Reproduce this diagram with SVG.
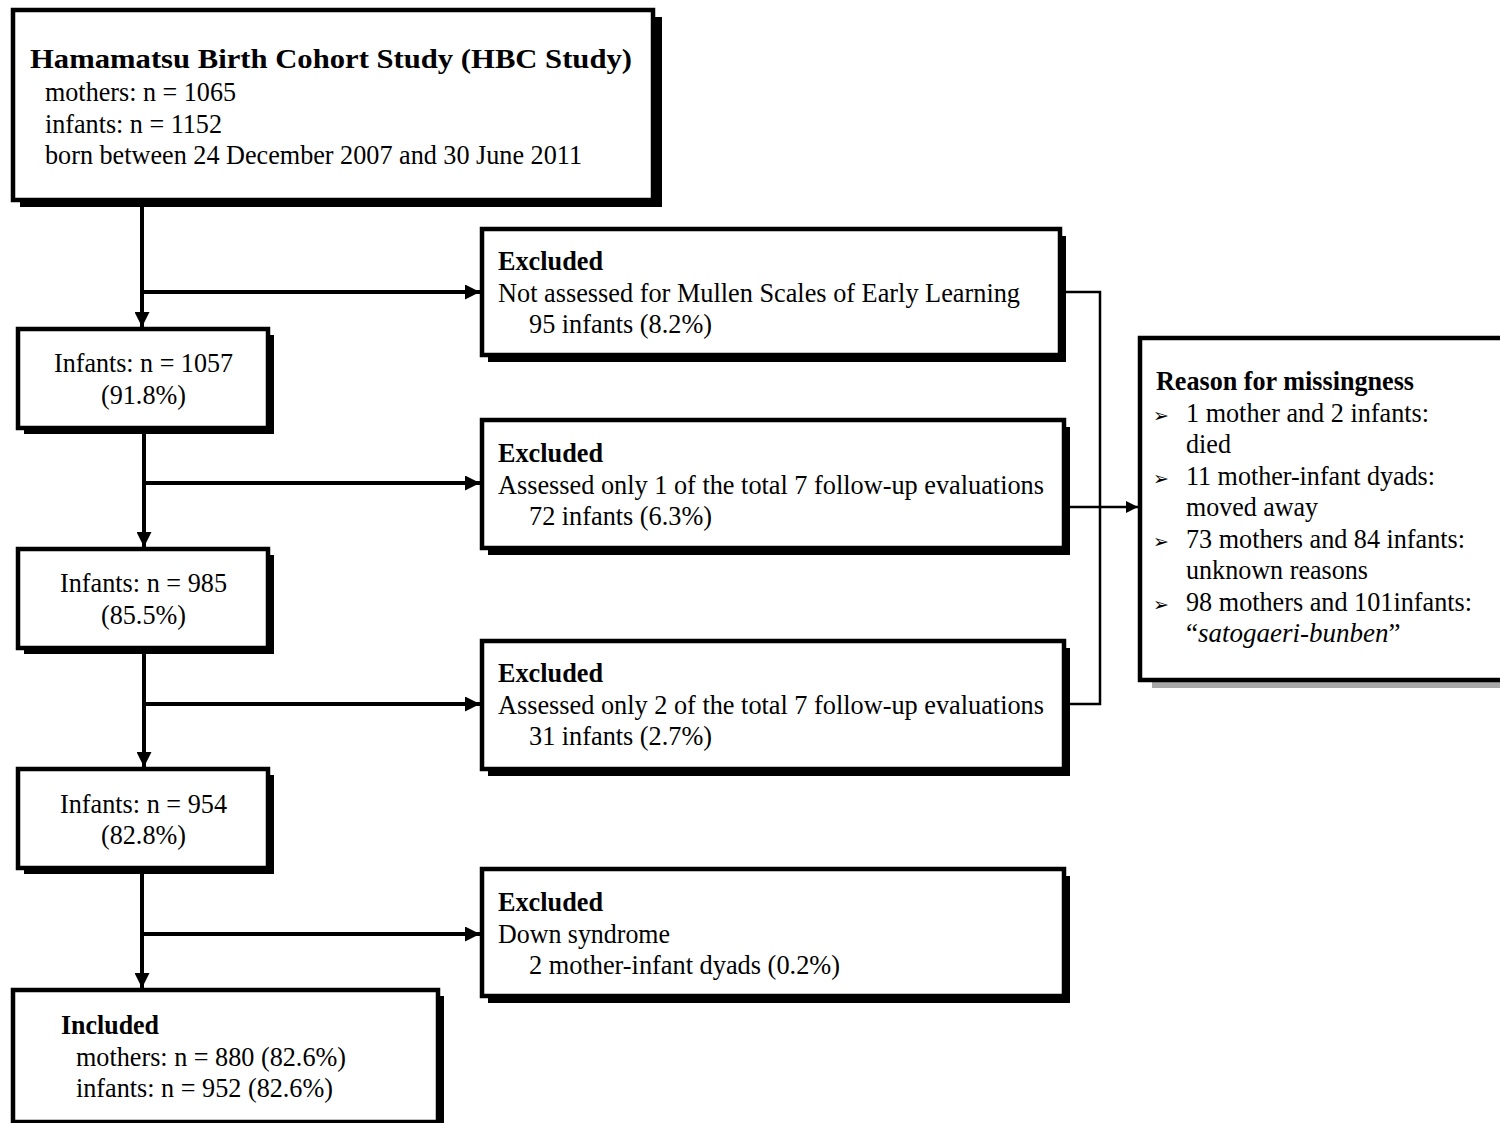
<svg xmlns="http://www.w3.org/2000/svg" width="1500" height="1123" viewBox="0 0 1500 1123">
<defs>
<style>
.box{fill:#fff;stroke:#000;stroke-width:4.5}
.sh{fill:#000}
.shg{fill:#a8a8a8}
.t{font-family:"Liberation Serif","Times New Roman",serif;font-size:27px;fill:#000}
.b{font-weight:bold}
.i{font-style:italic}
.c{text-anchor:middle}
.ln{fill:none;stroke:#000;stroke-width:4}
.thin{fill:none;stroke:#000;stroke-width:2.5}
.bul{font-family:"DejaVu Sans",sans-serif;font-size:19px;fill:#000}
</style>
<marker id="ah" viewBox="0 0 10 10" refX="10" refY="5" markerWidth="16" markerHeight="15" markerUnits="userSpaceOnUse" orient="auto">
<path d="M0,0 L10,5 L0,10 Z" fill="#000"/>
</marker>
<marker id="ah2" viewBox="0 0 10 10" refX="10" refY="5" markerWidth="13" markerHeight="12" markerUnits="userSpaceOnUse" orient="auto">
<path d="M0,0 L10,5 L0,10 Z" fill="#000"/>
</marker>
</defs>
<rect width="1500" height="1123" fill="#fff"/>

<g id="connectors">
<line class="ln" x1="142" y1="200" x2="142" y2="327" marker-end="url(#ah)"/>
<line class="ln" x1="142" y1="292" x2="480" y2="292" marker-end="url(#ah)"/>
<line class="ln" x1="144" y1="428" x2="144" y2="547" marker-end="url(#ah)"/>
<line class="ln" x1="144" y1="483" x2="480" y2="483" marker-end="url(#ah)"/>
<line class="ln" x1="144" y1="648" x2="144" y2="767" marker-end="url(#ah)"/>
<line class="ln" x1="144" y1="704" x2="480" y2="704" marker-end="url(#ah)"/>
<line class="ln" x1="142" y1="868" x2="142" y2="988" marker-end="url(#ah)"/>
<line class="ln" x1="142" y1="934" x2="480" y2="934" marker-end="url(#ah)"/>
<polyline class="thin" points="1062,292 1100,292 1100,704 1066,704"/>
<line class="thin" x1="1066" y1="507" x2="1138" y2="507" marker-end="url(#ah2)"/>
</g>

<g id="n-cohort">
<rect class="sh" x="20" y="17" width="642" height="190"/>
<rect class="box" x="13" y="10" width="640" height="190"/>
<text class="t b" x="30" y="68" font-size="31" textLength="602" lengthAdjust="spacingAndGlyphs">Hamamatsu Birth Cohort Study (HBC Study)</text>
<text class="t" x="45" y="101" textLength="191" lengthAdjust="spacingAndGlyphs">mothers: n = 1065</text>
<text class="t" x="45" y="133" textLength="177" lengthAdjust="spacingAndGlyphs">infants: n = 1152</text>
<text class="t" x="45" y="164" textLength="537" lengthAdjust="spacingAndGlyphs">born between 24 December 2007 and 30 June 2011</text>
</g>

<g id="n-excl1">
<rect class="sh" x="488" y="236" width="578" height="126"/>
<rect class="box" x="482" y="229" width="578" height="126"/>
<text class="t b" x="498" y="270" textLength="105" lengthAdjust="spacingAndGlyphs">Excluded</text>
<text class="t" x="498" y="302" textLength="522" lengthAdjust="spacingAndGlyphs">Not assessed for Mullen Scales of Early Learning</text>
<text class="t" x="529" y="333" textLength="183" lengthAdjust="spacingAndGlyphs">95 infants (8.2%)</text>
</g>

<g id="n-inf1">
<rect class="sh" x="24" y="335" width="250" height="99"/>
<rect class="box" x="18" y="329" width="250" height="99"/>
<text class="t c" x="143.5" y="372" textLength="179" lengthAdjust="spacingAndGlyphs">Infants: n = 1057</text>
<text class="t c" x="143.5" y="404" textLength="85" lengthAdjust="spacingAndGlyphs">(91.8%)</text>
</g>

<g id="n-excl2">
<rect class="sh" x="488" y="427" width="582" height="128"/>
<rect class="box" x="482" y="420" width="582" height="128"/>
<text class="t b" x="498" y="462" textLength="105" lengthAdjust="spacingAndGlyphs">Excluded</text>
<text class="t" x="498" y="494" textLength="546" lengthAdjust="spacingAndGlyphs">Assessed only 1 of the total 7 follow-up evaluations</text>
<text class="t" x="529" y="525" textLength="183" lengthAdjust="spacingAndGlyphs">72 infants (6.3%)</text>
</g>

<g id="n-inf2">
<rect class="sh" x="24" y="555" width="250" height="99"/>
<rect class="box" x="18" y="549" width="250" height="99"/>
<text class="t c" x="143.5" y="592" textLength="167" lengthAdjust="spacingAndGlyphs">Infants: n = 985</text>
<text class="t c" x="143.5" y="624" textLength="85" lengthAdjust="spacingAndGlyphs">(85.5%)</text>
</g>

<g id="n-excl3">
<rect class="sh" x="488" y="648" width="582" height="128"/>
<rect class="box" x="482" y="641" width="582" height="128"/>
<text class="t b" x="498" y="682" textLength="105" lengthAdjust="spacingAndGlyphs">Excluded</text>
<text class="t" x="498" y="714" textLength="546" lengthAdjust="spacingAndGlyphs">Assessed only 2 of the total 7 follow-up evaluations</text>
<text class="t" x="529" y="745" textLength="183" lengthAdjust="spacingAndGlyphs">31 infants (2.7%)</text>
</g>

<g id="n-inf3">
<rect class="sh" x="24" y="775" width="250" height="99"/>
<rect class="box" x="18" y="769" width="250" height="99"/>
<text class="t c" x="143.5" y="813" textLength="167" lengthAdjust="spacingAndGlyphs">Infants: n = 954</text>
<text class="t c" x="143.5" y="844" textLength="85" lengthAdjust="spacingAndGlyphs">(82.8%)</text>
</g>

<g id="n-excl4">
<rect class="sh" x="488" y="876" width="582" height="127"/>
<rect class="box" x="482" y="869" width="582" height="127"/>
<text class="t b" x="498" y="911" textLength="105" lengthAdjust="spacingAndGlyphs">Excluded</text>
<text class="t" x="498" y="943" textLength="172" lengthAdjust="spacingAndGlyphs">Down syndrome</text>
<text class="t" x="529" y="974" textLength="311" lengthAdjust="spacingAndGlyphs">2 mother-infant dyads (0.2%)</text>
</g>

<g id="n-included">
<rect class="sh" x="19" y="996" width="425" height="132"/>
<rect class="box" x="13" y="990" width="425" height="132"/>
<text class="t b" x="61" y="1034" textLength="98" lengthAdjust="spacingAndGlyphs">Included</text>
<text class="t" x="76" y="1066" textLength="270" lengthAdjust="spacingAndGlyphs">mothers: n = 880 (82.6%)</text>
<text class="t" x="76" y="1097" textLength="257" lengthAdjust="spacingAndGlyphs">infants: n = 952 (82.6%)</text>
</g>

<g id="n-reason">
<rect class="shg" x="1152" y="346" width="400" height="342"/>
<rect class="box" x="1140" y="338" width="400" height="342"/>
<text class="t b" x="1156" y="390" textLength="258" lengthAdjust="spacingAndGlyphs">Reason for missingness</text>
<text class="bul" x="1153" y="422">➢</text>
<text class="t" x="1186" y="422" textLength="243" lengthAdjust="spacingAndGlyphs">1 mother and 2 infants:</text>
<text class="t" x="1186" y="453" textLength="45" lengthAdjust="spacingAndGlyphs">died</text>
<text class="bul" x="1153" y="485">➢</text>
<text class="t" x="1186" y="485" textLength="249" lengthAdjust="spacingAndGlyphs">11 mother-infant dyads:</text>
<text class="t" x="1186" y="516" textLength="132" lengthAdjust="spacingAndGlyphs">moved away</text>
<text class="bul" x="1153" y="548">➢</text>
<text class="t" x="1186" y="548" textLength="279" lengthAdjust="spacingAndGlyphs">73 mothers and 84 infants:</text>
<text class="t" x="1186" y="579" textLength="182" lengthAdjust="spacingAndGlyphs">unknown reasons</text>
<text class="bul" x="1153" y="611">➢</text>
<text class="t" x="1186" y="611" textLength="286" lengthAdjust="spacingAndGlyphs">98 mothers and 101infants:</text>
<text class="t" x="1186" y="642">“<tspan class="i">satogaeri-bunben</tspan>”</text>
</g>
</svg>
